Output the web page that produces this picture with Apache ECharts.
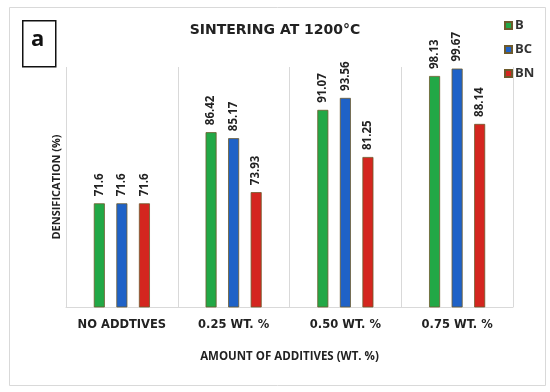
<!DOCTYPE html>
<html>
<head>
<meta charset="utf-8">
<script src="https://cdn.jsdelivr.net/npm/echarts@6/dist/echarts.min.js"></script>
<style>html,body{margin:0;padding:0;background:#fff}#c{width:550px;height:392px}</style>
</head>
<body>
<div id="c"></div>
<script>
const categories = ['NO ADDTIVES', '0.25 WT. %', '0.50 WT. %', '0.75 WT. %'];
const seriesNames = ['B', 'BC', 'BN'];
const valuesB = [71.6, 86.42, 91.07, 98.13];
const valuesBC = [71.6, 85.17, 93.56, 99.67];
const valuesBN = [71.6, 73.93, 81.25, 88.14];
const colors = ['#22a846', '#1f62c7', '#d4261f'];

const chart = echarts.init(document.getElementById('c'), null, {renderer: 'canvas'});
const data = [valuesB, valuesBC, valuesBN];
const labelFmt = p => String(data[p.seriesIndex][p.dataIndex]);
chart.setOption({
  animation: false,
  backgroundColor: '#fff',
  title: {
    text: 'SINTERING AT 1200°C',
    left: 'center', top: 18,
    textStyle: {fontFamily: 'DejaVu Sans', fontWeight: 'bold', fontSize: 14, color: '#222'}
  },
  legend: {
    orient: 'vertical', left: 499, top: 14,
    itemWidth: 7, itemHeight: 7, itemGap: 11,
    icon: 'rect',
    data: seriesNames,
    textStyle: {fontFamily: 'Open Sans', fontWeight: 'bold', fontSize: 13, color: '#333', padding: [0, 0, 0, -2]}
  },
  grid: {left: 66, right: 37, top: 67, bottom: 85},
  xAxis: {
    type: 'category', data: categories,
    axisLine: {show: true, lineStyle: {color: '#d9d9d9', width: 1}},
    axisTick: {show: false, interval: 0},
    splitLine: {show: true, interval: 0, lineStyle: {color: '#d9d9d9', width: 1}},
    axisLabel: {interval: 0, margin: 12, fontFamily: 'DejaVu Sans', fontWeight: 'bold', fontSize: 11.5, color: '#222'},
    name: 'AMOUNT OF ADDITIVES (WT. %)', nameLocation: 'middle', nameGap: 44,
    nameTextStyle: {fontFamily: 'Open Sans', fontWeight: 'bold', fontSize: 11.5, color: '#222'}
  },
  yAxis: {
    type: 'value', min: 50, max: 100,
    axisLine: {show: false}, axisTick: {show: false}, axisLabel: {show: false},
    splitLine: {show: false},
    name: 'DENSIFICATION (%)', nameLocation: 'middle', nameGap: 4, nameRotate: 90,
    nameTextStyle: {fontFamily: 'Open Sans', fontWeight: 'bold', fontSize: 11, color: '#222'}
  },
  series: seriesNames.map((n, i) => ({
    name: n, type: 'bar', data: data[i],
    barWidth: 11, barGap: '105%',
    itemStyle: {color: colors[i], borderColor: '#6d5a2c', borderWidth: 0.8},
    label: {
      show: true, position: 'top', rotate: 90, align: 'left', verticalAlign: 'middle',
      distance: 7, formatter: labelFmt,
      fontFamily: 'Open Sans', fontWeight: 'bold', fontSize: 11.5, color: '#222'
    }
  })),
  graphic: [
    {type: 'rect', left: 7, top: 5, z: -1, shape: {width: 536, height: 378},
     style: {fill: 'none', stroke: '#d9d9d9', lineWidth: 1}},
    {type: 'rect', left: 22, top: 20, shape: {width: 33, height: 46},
     style: {fill: '#fff', stroke: '#111', lineWidth: 1.5}},
    {type: 'text', left: 31, top: 29,
     style: {text: 'a', font: 'bold 22px "Open Sans"', fill: '#111'}}
  ]
});
</script>
</body>
</html>
